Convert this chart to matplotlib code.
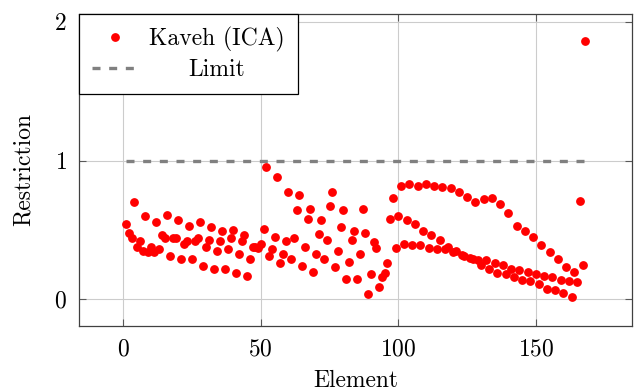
import numpy as np
import matplotlib
matplotlib.use("Agg")
import matplotlib.pyplot as plt

# restriction value of each element
element = list(range(1, 169))
restriction = [
    0.54, 0.48, 0.44, 0.70, 0.38, 0.42, 0.35, 0.60, 0.34, 0.38,
    0.34, 0.56, 0.36, 0.46, 0.44, 0.61, 0.31, 0.44, 0.44, 0.57,
    0.29, 0.40, 0.42, 0.53, 0.29, 0.42, 0.44, 0.56, 0.24, 0.38,
    0.43, 0.52, 0.22, 0.35, 0.42, 0.49, 0.22, 0.36, 0.44, 0.50,
    0.19, 0.33, 0.42, 0.46, 0.17, 0.29, 0.38, 0.38, 0.37, 0.40,
    0.51, 0.95, 0.31, 0.36, 0.45, 0.88, 0.26, 0.33, 0.42, 0.77,
    0.29, 0.44, 0.64, 0.75, 0.24, 0.38, 0.58, 0.65, 0.20, 0.33,
    0.47, 0.57, 0.29, 0.43, 0.67, 0.77, 0.23, 0.35, 0.52, 0.64,
    0.15, 0.27, 0.43, 0.49, 0.15, 0.33, 0.65, 0.48, 0.04, 0.18,
    0.41, 0.37, 0.09, 0.16, 0.19, 0.26, 0.58, 0.73, 0.37, 0.60,
    0.82, 0.40, 0.57, 0.83, 0.39, 0.54, 0.82, 0.39, 0.49, 0.83,
    0.37, 0.46, 0.82, 0.36, 0.43, 0.81, 0.36, 0.38, 0.80, 0.34,
    0.35, 0.77, 0.32, 0.31, 0.74, 0.30, 0.29, 0.70, 0.28, 0.25,
    0.72, 0.28, 0.215, 0.73, 0.26, 0.19, 0.69, 0.25, 0.18, 0.62,
    0.22, 0.16, 0.53, 0.21, 0.14, 0.49, 0.20, 0.13, 0.45, 0.18,
    0.11, 0.39, 0.17, 0.078, 0.34, 0.16, 0.07, 0.29, 0.14, 0.046,
    0.23, 0.13, 0.02, 0.20, 0.125, 0.71, 0.25, 1.86,
]
limit_x = [1, 168]
limit_y = [1, 1]

plt.rcParams['font.family'] = 'cmr10'
plt.rcParams['axes.formatter.use_mathtext'] = True
plt.rcParams['font.size'] = 17

fig = plt.figure(figsize=(6.34, 3.91), dpi=100)
ax = fig.add_subplot(1, 1, 1)
fig.subplots_adjust(left=0.125, right=0.997, top=0.964, bottom=0.167)

ax.plot(element, restriction, 'o', color='red', markersize=5.3,
        label='Kaveh (ICA)', zorder=3)
ax.plot(limit_x, limit_y, color='0.5', lw=2.4, dashes=(2.4, 2.6),
        label='Limit', zorder=2)

ax.set_xlim(-16, 185)
ax.set_ylim(-0.19, 2.055)
ax.set_xticks([0, 50, 100, 150])
ax.set_yticks([0, 1, 2])
ax.grid(True, color='0.8', lw=0.8)
ax.set_axisbelow(True)
ax.tick_params(direction='in', length=5, width=0.8, color='0.35',
               top=True, right=True, pad=9)
for s in ax.spines.values():
    s.set_color('0.25')
    s.set_linewidth(0.9)

ax.set_xlabel('Element', labelpad=7)
ax.set_ylabel('Restriction', labelpad=14)

leg = ax.legend(loc='upper left', borderaxespad=0, fancybox=False,
                edgecolor='black', framealpha=1, handlelength=1.9,
                numpoints=1, borderpad=0.55, labelspacing=0.3,
                handletextpad=0.5)
leg.get_frame().set_linewidth(0.9)

# centre the shorter legend label under the longer one
fig.canvas.draw()
texts = leg.get_texts()
w0 = texts[0].get_window_extent().width
w1 = texts[1].get_window_extent().width
texts[1].set_x((w0 - w1) / 2)

fig.savefig('out.png', dpi=100)
